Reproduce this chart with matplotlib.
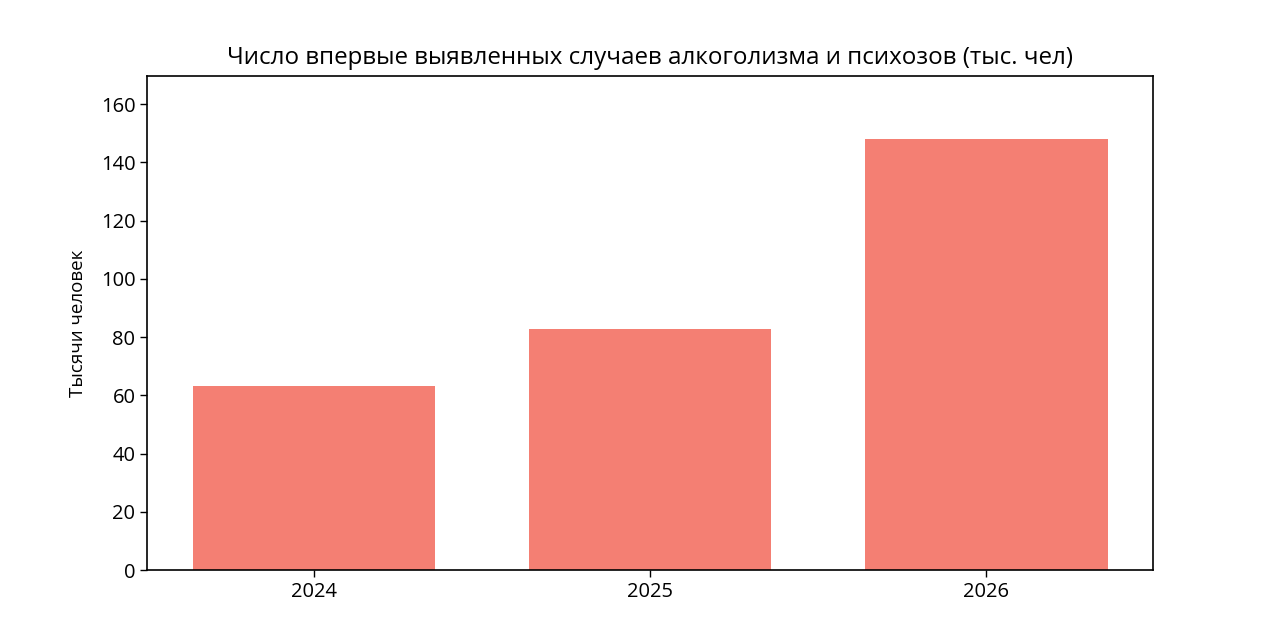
import matplotlib.pyplot as plt

plt.rcParams['font.family'] = ['Open Sans', 'DejaVu Sans']

# данные
years = ['2024', '2025', '2026']
cases = [63.3, 82.7, 148.2]

fig = plt.figure(figsize=(12.8, 6.4), dpi=100)
ax = fig.add_axes([0.115, 0.109, 0.786, 0.772])

ax.bar(years, cases, width=0.72, color='#F47F73')

ax.set_ylim(0, 169.6)
ax.set_yticks(range(0, 161, 20))
ax.tick_params(axis='both', labelsize=14.5, length=5, width=1)
ax.set_ylabel('Тысячи человек', fontsize=13.5, labelpad=10)
ax.set_title('Число впервые выявленных случаев алкоголизма и психозов (тыс. чел)',
             fontsize=17.4, pad=9)

for s in ax.spines.values():
    s.set_linewidth(1.2)

fig.savefig('out.png', dpi=100)
